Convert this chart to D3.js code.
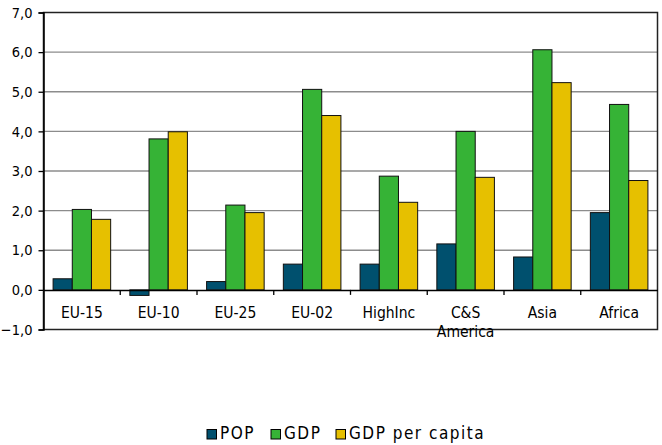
<!DOCTYPE html>
<html>
<head>
<meta charset="utf-8">
<script src="https://cdn.jsdelivr.net/npm/d3@7"></script>
<style>
  html, body { margin: 0; padding: 0; background: #fff; }
  svg { display: block; }
  text { font-family: "DejaVu Sans Condensed", "Liberation Sans Narrow", sans-serif; fill: #000; }
</style>
</head>
<body>
<svg id="chart" width="662" height="445"></svg>
<script>
// Growth by region: population, GDP and GDP per capita (%)
const categories = ["EU-15", "EU-10", "EU-25", "EU-02", "HighInc", "C&S America", "Asia", "Africa"];
const seriesNames = ["POP", "GDP", "GDP per capita"];
const popValues = [0.28, -0.14, 0.21, 0.65, 0.65, 1.16, 0.83, 1.95];
const gdpValues = [2.03, 3.81, 2.14, 5.06, 2.87, 4.00, 6.06, 4.68];
const gdpPcValues = [1.78, 3.99, 1.95, 4.40, 2.21, 2.84, 5.23, 2.76];
const yTicks = [-1, 0, 1, 2, 3, 4, 5, 6, 7];
const colors = ["#00506e", "#36b336", "#e6c000"];

const seriesValues = [popValues, gdpValues, gdpPcValues];

const svg = d3.select("#chart");
const plot = { left: 43.5, right: 657.5, top: 12.5, bottom: 329.5 };

const y = d3.scaleLinear().domain([-1, 7]).range([plot.bottom, plot.top]);
const x0 = d3.scaleBand().domain(categories).range([plot.left, plot.right]).padding(0);
const bw = x0.bandwidth();
const x1 = d3.scaleBand().domain(seriesNames).range([bw / 8, bw - bw / 8]).padding(0);

// gridlines
svg.append("g")
  .selectAll("line")
  .data(yTicks.filter(t => t !== -1 && t !== 7 && t !== 0))
  .join("line")
  .attr("x1", plot.left).attr("x2", plot.right)
  .attr("y1", d => y(d)).attr("y2", d => y(d))
  .attr("stroke", "#8c8c8c").attr("stroke-width", 1.3);

// bars
const groups = svg.append("g")
  .selectAll("g")
  .data(categories)
  .join("g")
  .attr("transform", d => `translate(${x0(d)},0)`);

groups.selectAll("rect")
  .data((c, i) => seriesNames.map((s, k) => ({ s, k, v: seriesValues[k][i] })))
  .join("rect")
  .attr("x", d => x1(d.s))
  .attr("width", x1.bandwidth())
  .attr("y", d => y(Math.max(0, d.v)))
  .attr("height", d => Math.abs(y(d.v) - y(0)))
  .attr("fill", d => colors[d.k])
  .attr("stroke", "#111")
  .attr("stroke-width", 1);

// plot frame
svg.append("rect")
  .attr("x", plot.left).attr("y", plot.top)
  .attr("width", plot.right - plot.left).attr("height", plot.bottom - plot.top)
  .attr("fill", "none").attr("stroke", "#222").attr("stroke-width", 1.5);

// value axis
const yAxis = d3.axisLeft(y)
  .tickValues(yTicks)
  .tickSize(5)
  .tickPadding(6)
  .tickFormat(d => d3.format(".1f")(d).replace(".", ","));
const ya = svg.append("g").attr("transform", `translate(${plot.left},0)`).call(yAxis);
ya.select(".domain").attr("stroke", "#000").attr("stroke-width", 1.5);
ya.selectAll(".tick line").attr("stroke", "#000").attr("stroke-width", 1.3);
ya.selectAll(".tick text").attr("font-size", 14.5).attr("fill", "#000")
  .style("font-family", "'DejaVu Sans Condensed', sans-serif");

// category axis along zero line
const xAxis = d3.axisBottom(x0).tickSize(0).tickFormat("");
const xa = svg.append("g").attr("transform", `translate(0,${y(0)})`).call(xAxis);
xa.select(".domain").attr("stroke", "#000").attr("stroke-width", 1.5);

svg.append("g")
  .selectAll("line")
  .data(categories.slice(1))
  .join("line")
  .attr("x1", d => x0(d)).attr("x2", d => x0(d))
  .attr("y1", y(0)).attr("y2", y(0) + 5)
  .attr("stroke", "#000").attr("stroke-width", 1.3);

// category labels, wrapped onto two lines when too wide
const labels = svg.append("g")
  .selectAll("text")
  .data(categories)
  .join("text")
  .attr("x", d => x0(d) + bw / 2)
  .attr("y", y(0) + 28)
  .attr("text-anchor", "middle")
  .attr("font-size", 15.5);

labels.each(function (d) {
  const t = d3.select(this);
  const words = d.split(" ");
  t.text(d);
  if (words.length > 1 && this.getComputedTextLength() > bw * 0.7) {
    t.text(null);
    words.forEach((w, i) => {
      t.append("tspan")
        .attr("x", x0(d) + bw / 2)
        .attr("dy", i === 0 ? 0 : 19)
        .text(w);
    });
  }
});

// legend
const legendItems = [
  { name: seriesNames[0], x: 207 },
  { name: seriesNames[1], x: 271 },
  { name: seriesNames[2], x: 336 }
];
const legend = svg.append("g")
  .selectAll("g")
  .data(legendItems)
  .join("g")
  .attr("transform", d => `translate(${d.x},429.5)`);
legend.append("rect")
  .attr("width", 9.5).attr("height", 9.5)
  .attr("fill", (d, i) => colors[i])
  .attr("stroke", "#000").attr("stroke-width", 1);
legend.append("text")
  .attr("x", 13).attr("y", 9)
  .attr("font-size", 17)
  .attr("letter-spacing", 1.5)
  .text(d => d.name);
</script>
</body>
</html>
